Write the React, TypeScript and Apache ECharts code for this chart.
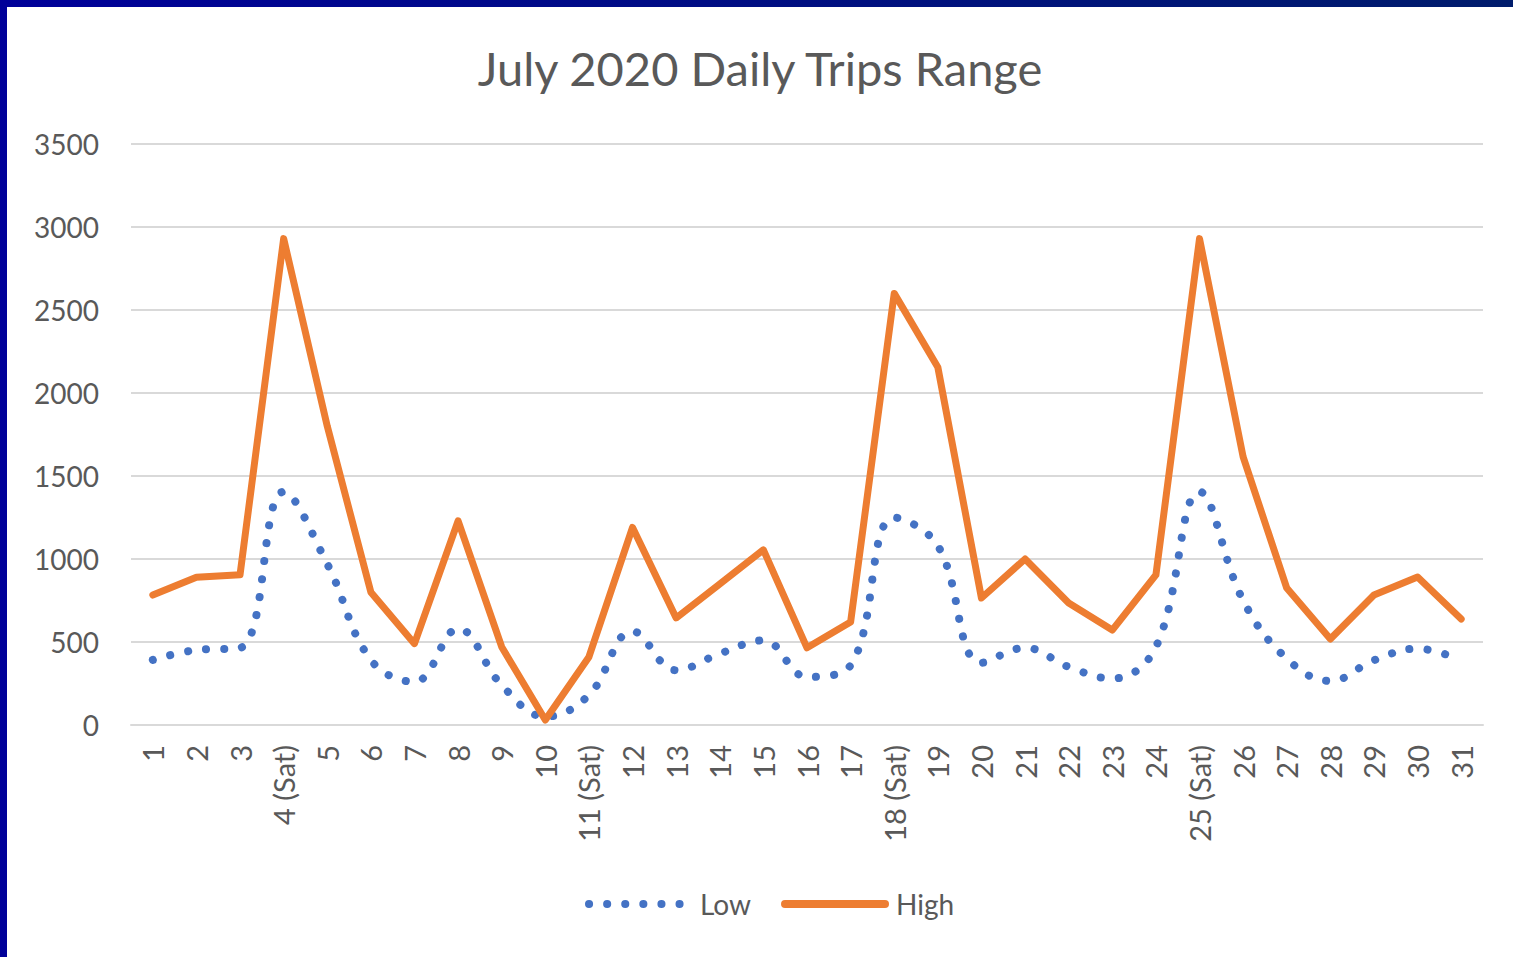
import React, { useEffect, useRef } from "react";
import * as echarts from "echarts";

const days = [
  "1", "2", "3", "4 (Sat)", "5", "6", "7", "8", "9", "10",
  "11 (Sat)", "12", "13", "14", "15", "16", "17", "18 (Sat)", "19", "20",
  "21", "22", "23", "24", "25 (Sat)", "26", "27", "28", "29", "30", "31",
];

const lowValues = [
  392, 452, 464, 1405, 970, 392, 260, 580, 240, 50,
  180, 565, 330, 430, 510, 290, 360, 1250, 1080, 375,
  465, 350, 280, 470, 1405, 750, 400, 265, 390, 460, 390,
];

const highValues = [
  783, 890, 905, 2930, 1800, 800, 490, 1230, 470, 30,
  410, 1190, 645, 850, 1055, 465, 620, 2600, 2155, 765,
  1000, 735, 572, 904, 2930, 1615, 825, 518, 783, 892, 638,
];

const yTicks = [0, 500, 1000, 1500, 2000, 2500, 3000, 3500];

const TEXT = "#595959";
const FONT = "Lato, 'Open Sans', sans-serif";
const LOW_COLOR = "#4472C4";
const HIGH_COLOR = "#ED7D31";
const dotDash = [0.1, 18];

export default function App() {
  const ref = useRef<HTMLDivElement>(null);

  useEffect(() => {
    if (!ref.current) return;
    const chart = echarts.init(ref.current, null, { renderer: "svg" });
    chart.setOption({
      animation: false,
      backgroundColor: "#ffffff",
      title: {
        text: "July 2020 Daily Trips Range",
        left: "center",
        top: 32,
        textStyle: {
          color: TEXT,
          fontFamily: FONT,
          fontSize: 47,
          fontWeight: "normal",
        },
      },
      legend: {
        left: 573,
        top: 878,
        itemWidth: 100,
        itemHeight: 18,
        itemGap: 30,
        textStyle: {
          color: TEXT,
          fontFamily: FONT,
          fontSize: 28,
          padding: [0, 0, 0, 6],
        },
        data: [
          {
            name: "Low",
            itemStyle: { opacity: 0 },
            lineStyle: { color: LOW_COLOR, width: 8, type: dotDash, cap: "round" },
          },
          {
            name: "High",
            itemStyle: { opacity: 0 },
            lineStyle: { color: HIGH_COLOR, width: 8, type: "solid", cap: "round" },
          },
        ],
      },
      grid: { left: 124, right: 30, top: 137, bottom: 232 },
      xAxis: {
        type: "category",
        data: days,
        boundaryGap: true,
        axisLine: { show: true, lineStyle: { color: "#D9D9D9", width: 2 } },
        axisTick: { show: false },
        axisLabel: {
          rotate: 90,
          margin: 20,
          interval: 0,
          color: TEXT,
          fontFamily: FONT,
          fontSize: 29,
        },
      },
      yAxis: {
        type: "value",
        min: yTicks[0],
        max: yTicks[yTicks.length - 1],
        interval: 500,
        axisLine: { show: false },
        axisTick: { show: false },
        splitLine: { lineStyle: { color: "#D9D9D9", width: 2 } },
        axisLabel: {
          margin: 32,
          color: TEXT,
          fontFamily: FONT,
          fontSize: 28,
          formatter: (v: number) => String(v),
        },
      },
      series: [
        {
          name: "Low",
          type: "line",
          data: lowValues,
          smooth: 0.4,
          showSymbol: false,
          symbol: "none",
          lineStyle: { color: LOW_COLOR, width: 8, type: dotDash, cap: "round" },
          itemStyle: { color: LOW_COLOR },
          z: 2,
        },
        {
          name: "High",
          type: "line",
          data: highValues,
          showSymbol: false,
          symbol: "none",
          lineStyle: { color: HIGH_COLOR, width: 7, join: "round", cap: "round" },
          itemStyle: { color: HIGH_COLOR },
          z: 3,
        },
      ],
    });
    return () => chart.dispose();
  }, []);

  return (
    <div
      style={{
        position: "absolute",
        left: 0,
        top: 0,
        width: 1513,
        height: 957,
        background: "linear-gradient(90deg, #000099 0%, #001c6c 100%)",
        overflow: "hidden",
      }}
    >
      <div
        style={{
          position: "absolute",
          left: 7,
          top: 7,
          width: 1506,
          height: 950,
          background: "#ffffff",
          boxShadow: "inset 1px 1px 0 #e3e3e3",
        }}
      >
        <div ref={ref} style={{ width: 1506, height: 950 }} />
      </div>
    </div>
  );
}
